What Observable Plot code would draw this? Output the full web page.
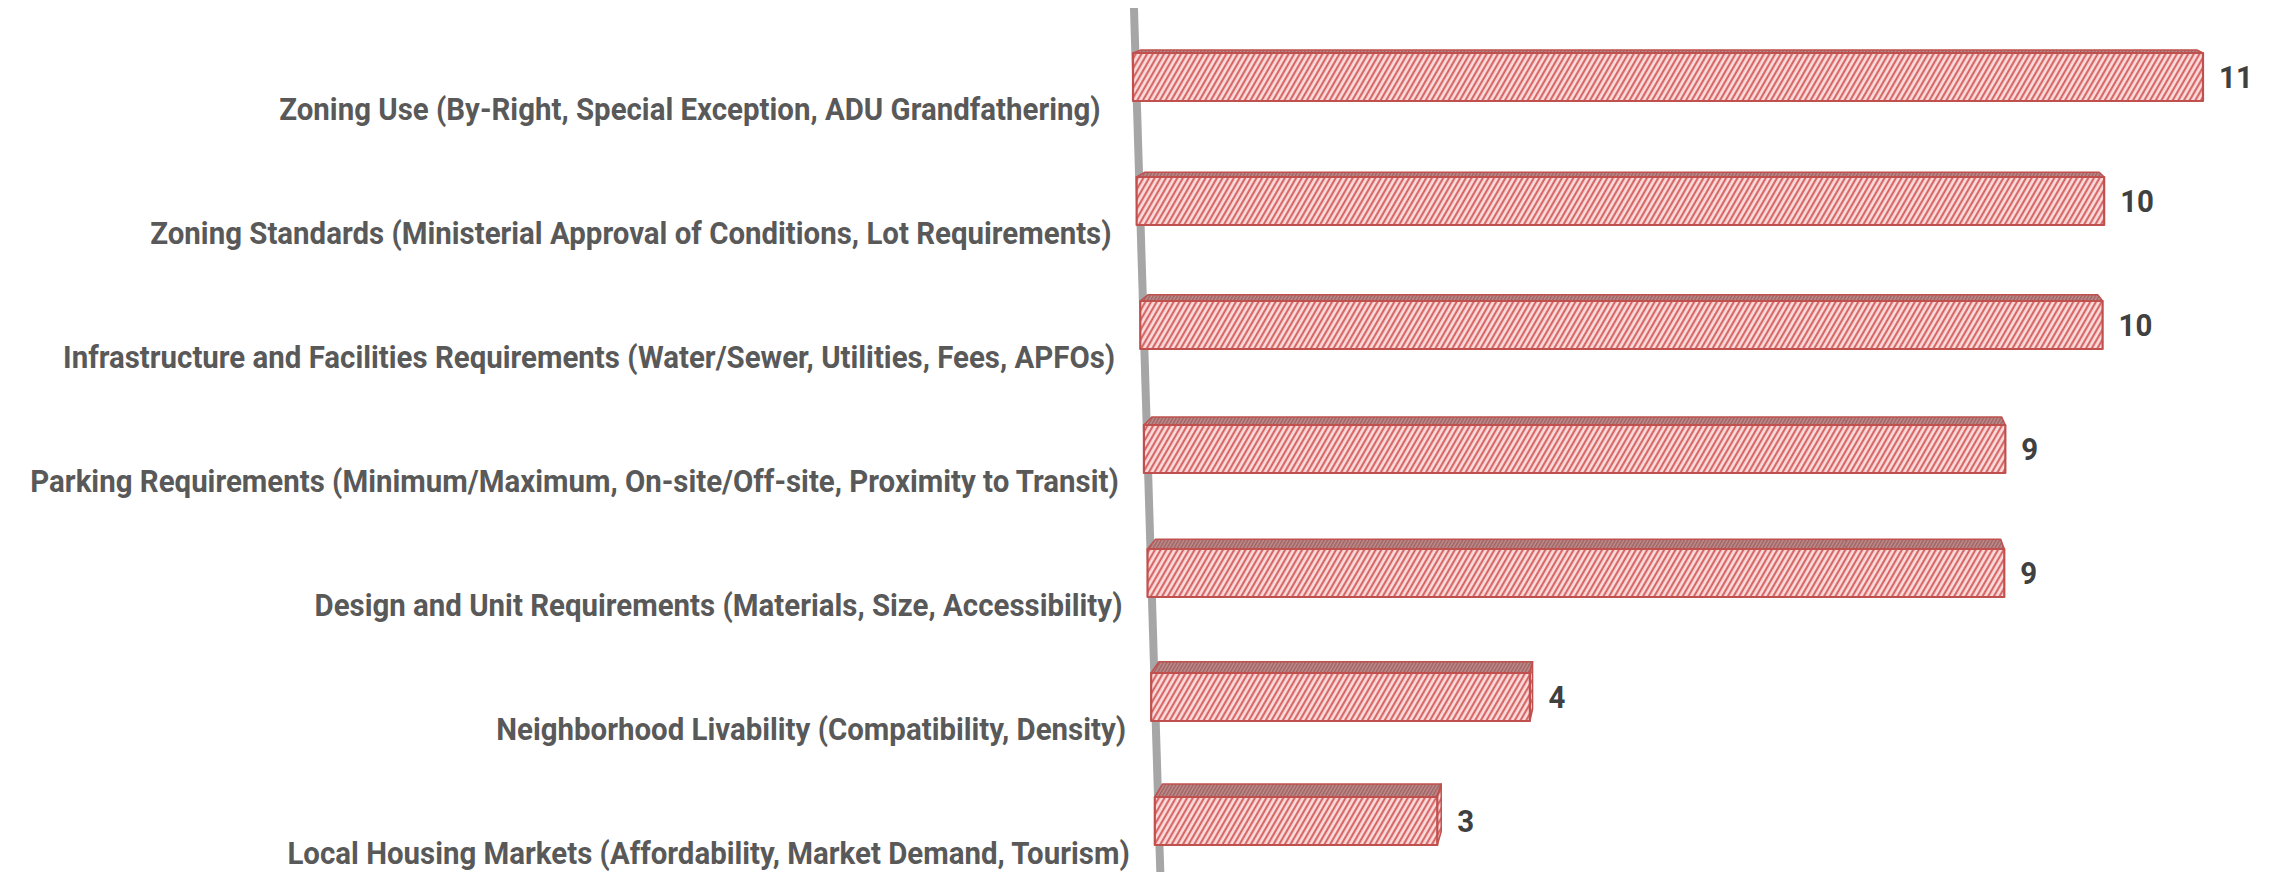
<!DOCTYPE html>
<html><head><meta charset="utf-8">
<script src="https://cdn.jsdelivr.net/npm/d3@7"></script>
<script src="https://cdn.jsdelivr.net/npm/@observablehq/plot@0.6"></script>
<style>body{margin:0;background:#fff}</style>
</head><body><div id="chart"></div>
<script>
const categories = [
  "Zoning Use (By-Right, Special Exception, ADU Grandfathering) ",
  "Zoning Standards (Ministerial Approval of Conditions, Lot Requirements)",
  "Infrastructure and Facilities Requirements (Water/Sewer, Utilities, Fees, APFOs)",
  "Parking Requirements (Minimum/Maximum, On-site/Off-site, Proximity to Transit)",
  "Design and Unit Requirements (Materials, Size, Accessibility)",
  "Neighborhood Livability (Compatibility, Density)",
  "Local Housing Markets (Affordability, Market Demand, Tourism)"
];
const counts = [11, 10, 10, 9, 9, 4, 3];
const data = categories.map((c, i) => ({category: c, count: counts[i]}));

const FONT = 'Roboto, "Open Sans", sans-serif';
const CONDENSE = 0.95;
const FONT_SIZE = 31;

// perspective parameters (style of the 3-D projection)
const SLANT = 0.0293;
const VFIX = 7;
const BAR_H = 48;
const VP = [1733, -175];
const DEPTH = 0.0133;

function render3D(index, scales, values, dimensions, context) {
  const x = scales.x, y = scales.y;
  const y0 = y(categories[0]);
  const drift = yy => SLANT * (yy - y0);
  const px = (v, yy) => x(v) + drift(yy) * (1 - v / VFIX);
  const back = ([a, b]) => [a + (VP[0] - a) * DEPTH, b + (VP[1] - b) * DEPTH];

  const g = d3.create("svg:g");
  const defs = g.append("defs");
  const p1 = defs.append("pattern").attr("id", "hatchFront")
    .attr("patternUnits", "userSpaceOnUse").attr("width", 4.9).attr("height", 10)
    .attr("patternTransform", "rotate(30)");
  p1.append("rect").attr("width", 4.9).attr("height", 10).attr("fill", "#fadcdc");
  p1.append("line").attr("x1", 1.2).attr("x2", 1.2).attr("y1", 0).attr("y2", 10)
    .attr("stroke", "#d35c5c").attr("stroke-width", 2);
  const p2 = defs.append("pattern").attr("id", "hatchTop")
    .attr("patternUnits", "userSpaceOnUse").attr("width", 3).attr("height", 3)
    .attr("patternTransform", "rotate(30)");
  p2.append("rect").attr("width", 3).attr("height", 3).attr("fill", "#c08e8e");
  p2.append("line").attr("x1", 0.8).attr("x2", 0.8).attr("y1", 0).attr("y2", 3)
    .attr("stroke", "#985a5a").attr("stroke-width", 1.3);

  // slanted value axis
  const yA = 8, yB = 872, w = 8;
  const ax0 = px(0, yA) - 1, ax1 = px(0, yB);
  g.append("polygon")
    .attr("points", [[ax0, yA], [ax0 + w, yA], [ax1 + w, yB], [ax1, yB]].map(p => p.join(",")).join(" "))
    .attr("fill", "#a6a6a6");

  const label = (xx, yy, anchor, fill, txt) =>
    g.append("text")
      .attr("transform", `translate(${xx},${yy}) scale(${CONDENSE},1)`)
      .attr("dy", "0.36em").attr("text-anchor", anchor).attr("fill", fill)
      .attr("font-family", FONT).attr("font-weight", "bold").attr("font-size", FONT_SIZE)
      .style("white-space", "pre")
      .text(txt);

  for (const i of index) {
    const d = data[i];
    const yc = y(d.category);
    const T = yc - BAR_H / 2, B = yc + BAR_H / 2;
    const L = px(0, yc), R = px(d.count, yc);
    const fTL = [L, T], fTR = [R, T], fBR = [R, B], fBL = [L, B];
    const bTL = back(fTL), bTR = back(fTR), bBR = back(fBR);
    const pts = a => a.map(p => p.join(",")).join(" ");
    const stroke = "#c0504d";
    g.append("polygon").attr("points", pts([fTL, fTR, bTR, bTL]))
      .attr("fill", "url(#hatchTop)").attr("stroke", stroke).attr("stroke-width", 1.5).attr("stroke-linejoin", "round");
    if (bTR[0] > fTR[0]) {
      g.append("polygon").attr("points", pts([fTR, bTR, bBR, fBR]))
        .attr("fill", "url(#hatchFront)").attr("stroke", stroke).attr("stroke-width", 1.5).attr("stroke-linejoin", "round");
    }
    g.append("polygon").attr("points", pts([fTL, fTR, fBR, fBL]))
      .attr("fill", "url(#hatchFront)").attr("stroke", stroke).attr("stroke-width", 2.2).attr("stroke-linejoin", "round");

    label(Math.max(R, bTR[0]) + 16, yc, "start", "#404040", String(d.count));
    const ly = yc + 32;
    label(px(0, ly) - 26, ly, "end", "#595959", d.category);
  }
  return g.node();
}

const chart = Plot.plot({
  width: 2272,
  height: 880,
  margin: 0,
  style: {background: "#fff", overflow: "visible"},
  x: {domain: [0, 11], range: [1133, 2203], axis: null},
  y: {type: "point", domain: categories, range: [75, 823], padding: 0, axis: null},
  marks: [
    Plot.dot(data, {x: "count", y: "category", r: 0, render: render3D})
  ]
});
document.getElementById("chart").appendChild(chart);
</script>
</body></html>
